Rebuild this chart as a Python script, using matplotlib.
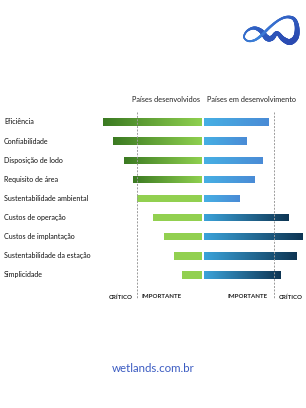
import numpy as np
import matplotlib.pyplot as plt
from matplotlib.patches import Rectangle
from matplotlib.colors import LinearSegmentedColormap
from matplotlib.collections import LineCollection

plt.rcParams['font.family'] = ['Lato', 'DejaVu Sans']

criterios = ['Eficiência', 'Confiabilidade', 'Disposição de lodo', 'Requisito de área',
             'Sustentabilidade ambiental', 'Custos de operação', 'Custos de implantação',
             'Sustentabilidade da estação', 'Simplicidade']
desenvolvidos = [100, 90, 79, 70, 66, 50, 39, 29, 21]
em_desenvolvimento = [66, 44, 60, 52, 37, 86, 100, 94, 78]
limite_desenvolvidos = 66
limite_em_desenvolvimento = 71

W, H = 306, 408
fig = plt.figure(figsize=(W / 100, H / 100), dpi=100)

# eixo das barras: 1 unidade = 1 pixel na horizontal
y_top, y_bot = 100, 300
ax = fig.add_axes([103 / W, 1 - y_bot / H, 200 / W, (y_bot - y_top) / H])
passo = (275 - 122) / 8
ax.set_xlim(-100, 100)
ax.axis('off')

verde_grad = LinearSegmentedColormap.from_list('vg', ['#3b7a22', '#8fd04f'])
azul_claro = LinearSegmentedColormap.from_list('ac', ['#46b0e4', '#4a8bd6'])
azul_escuro = LinearSegmentedColormap.from_list('ae', ['#3ba3da', '#0e3553'])
grad = np.linspace(0, 1, 256).reshape(1, -1)
altura = 0.38


def barra(x0, x1, y, cmap=None, cor=None):
    rect = Rectangle((x0, y - altura / 2), x1 - x0, altura, facecolor=cor or 'none',
                     edgecolor='none')
    ax.add_patch(rect)
    if cmap is not None:
        im = ax.imshow(grad, cmap=cmap, aspect='auto',
                       extent=(x0, x1, y + altura / 2, y - altura / 2),
                       interpolation='bilinear', zorder=2)
        im.set_clip_path(rect)


for i in range(len(criterios)):
    v = desenvolvidos[i]
    if v > limite_desenvolvidos:
        barra(-v, -1, i, cmap=verde_grad)
    else:
        barra(-v, -1, i, cor='#92d050')
    v = em_desenvolvimento[i]
    if v > limite_em_desenvolvimento:
        barra(1, v, i, cmap=azul_escuro)
    else:
        barra(1, v, i, cmap=azul_claro)
    ax.text(-199, i, criterios[i], fontsize=5.1, color='#111111', va='center', ha='left',
            clip_on=False)

y0 = (112 - 122) / passo
y1 = (298 - 122) / passo
ax.vlines([-limite_desenvolvidos, limite_em_desenvolvimento], y0, y1, colors='#9a9a9a',
          linestyles=(0, (2, 1.5)), linewidth=0.7)
ax.set_ylim((y_bot - 122) / passo, (y_top - 122) / passo)

fig.text(200 / W, 1 - 100 / H, 'Países desenvolvidos', fontsize=5.3, color='#222222',
         ha='right', va='center')
fig.text(207 / W, 1 - 100 / H, 'Países em desenvolvimento', fontsize=5.3, color='#222222',
         ha='left', va='center')
fig.text(133 / W, 1 - 297 / H, 'CRÍTICO', fontsize=4.4, color='#222222', ha='right',
         va='center', fontweight='bold')
fig.text(141 / W, 1 - 297 / H, 'IMPORTANTE', fontsize=4.4, color='#222222', ha='left',
         va='center', fontweight='bold')
fig.text(268 / W, 1 - 297 / H, 'IMPORTANTE', fontsize=4.4, color='#222222', ha='right',
         va='center', fontweight='bold')
fig.text(279 / W, 1 - 297 / H, 'CRÍTICO', fontsize=4.4, color='#222222', ha='left',
         va='center', fontweight='bold')

fig.text(153 / W, 1 - 369 / H, 'wetlands.com.br', fontsize=8.3, color='#3c5cc2',
         ha='center', va='center')

# logo (fita azul), desenhado em coordenadas de pixel
axl = fig.add_axes([0, 0, 1, 1])
axl.set_xlim(0, W)
axl.set_ylim(H, 0)
axl.axis('off')
ctrl = np.array([(262, 35), (255, 40), (248, 41), (244, 37), (247, 31), (254, 28),
                 (261, 31), (267, 38), (272, 38), (277, 33), (283, 39), (290, 42),
                 (296, 37), (297, 27), (294, 19), (287, 17), (279, 20), (270, 27),
                 (262, 35)], dtype=float)
largura_ctrl = np.array([2.0, 1.6, 1.3, 1.2, 1.4, 2.2, 3.2, 4.2, 3.6, 2.6, 3.6, 4.4,
                         4.0, 3.2, 2.4, 1.8, 1.6, 1.8, 2.0])
pts, wid = [], []
n = len(ctrl)
for k in range(n - 1):
    p0, p1, p2, p3 = ctrl[max(k - 1, 0)], ctrl[k], ctrl[k + 1], ctrl[min(k + 2, n - 1)]
    for s in np.linspace(0, 1, 12, endpoint=False):
        pts.append(0.5 * (2 * p1 + (-p0 + p2) * s + (2 * p0 - 5 * p1 + 4 * p2 - p3) * s ** 2
                          + (-p0 + 3 * p1 - 3 * p2 + p3) * s ** 3))
        wid.append(largura_ctrl[k] * (1 - s) + largura_ctrl[k + 1] * s)
pts = np.array(pts)
segs = np.stack([pts[:-1], pts[1:]], axis=1)
lc = LineCollection(segs, cmap=LinearSegmentedColormap.from_list(
    'lg', ['#3f86dc', '#2e5cc0', '#2a49b0', '#3a78d6']), linewidths=wid[:-1], capstyle='round')
lc.set_array(np.arange(len(segs)))
axl.add_collection(lc)

fig.savefig('out.png', dpi=100)
